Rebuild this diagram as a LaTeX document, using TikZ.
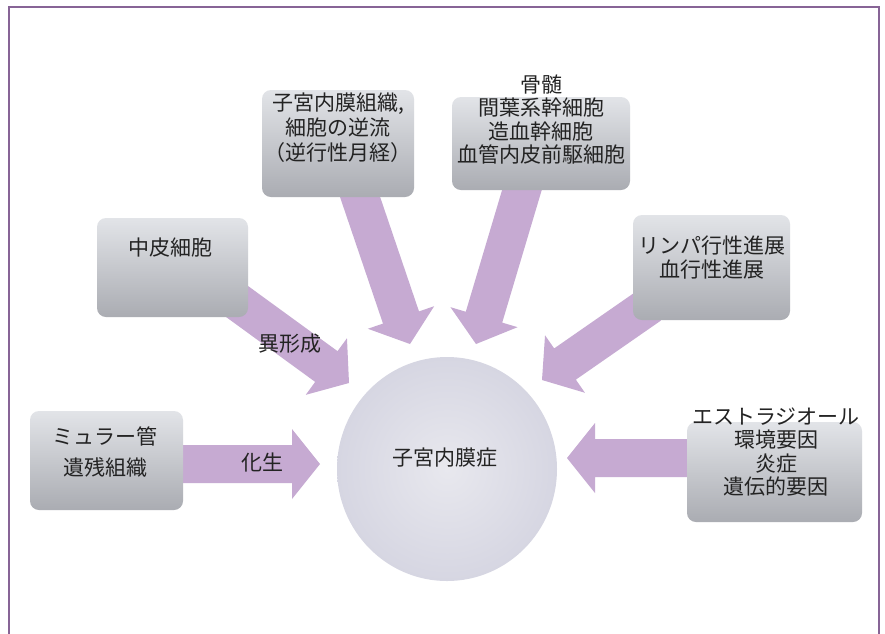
\documentclass[tikz,border=0pt]{standalone}
\usepackage{fontspec}
\newfontfamily\jp{Noto Sans CJK JP}
\usetikzlibrary{calc,backgrounds,shapes.geometric}
\definecolor{framec}{RGB}{135,100,150}
\definecolor{arrowc}{RGB}{198,170,210}
\definecolor{boxtop}{RGB}{226,228,232}
\definecolor{boxbot}{RGB}{170,172,178}
\definecolor{circin}{RGB}{232,232,238}
\definecolor{circout}{RGB}{214,214,226}
\definecolor{txt}{RGB}{35,35,35}
\tikzset{
  box/.style={rectangle, rounded corners=9pt, top color=boxtop, bottom color=boxbot, inner sep=0pt},
  lbl/.style={font=\jp\fontsize{21}{24}\selectfont, text=txt, align=center, inner sep=0pt},
  fat/.style={fill=arrowc},
}
\newcommand{\fatarrow}[2]{%
  \coordinate (hb) at ($(#2)!28pt!(#1)$);
  \fill[fat] ($(#1)!19pt!-90:(#2)$) -- ($(hb)!19pt!-90:(#2)$) -- ($(hb)!35pt!-90:(#2)$) -- (#2)
    -- ($(hb)!35pt!90:(#2)$) -- ($(hb)!19pt!90:(#2)$) -- ($(#1)!19pt!90:(#2)$) -- cycle;
}
\begin{document}
\begin{tikzpicture}[x=1pt,y=-1pt]
\useasboundingbox (0,0) rectangle (885,633);
% boxes
\node[box, minimum width=152pt, minimum height=107pt] (A) at (338,143.5) {};
\node[box, minimum width=178pt, minimum height=93pt] (B) at (541,143.5) {};
\node[box, minimum width=151pt, minimum height=99pt] (C) at (172.5,267.5) {};
\node[box, minimum width=157pt, minimum height=105pt] (D) at (711.5,267.5) {};
\node[box, minimum width=153pt, minimum height=99pt] (E) at (106.5,460.5) {};
\node[box, minimum width=175pt, minimum height=100pt] (F) at (774.5,472) {};
\node[ellipse, minimum width=220pt, minimum height=224pt, inner color=circin, outer color=circout] (M) at (447,469) {};
% texts
\node[lbl, font=\jp\fontsize{21}{25}\selectfont] (At) at (338,128) {子宮内膜組織,\\細胞の逆流\\（逆行性月経）};
\node[lbl, font=\jp\fontsize{21}{23.5}\selectfont] (Bt) at (541,119.5) {骨髄\\間葉系幹細胞\\造血幹細胞\\血管内皮前駆細胞};
\node[lbl] (Ct) at (170,248) {中皮細胞};
\node[lbl] (Dt) at (712,258) {リンパ行性進展\\血行性進展};
\node[lbl, font=\jp\fontsize{21}{31}\selectfont] (Et) at (105,452) {ミュラー管\\遺残組織};
\node[lbl, font=\jp\fontsize{21}{23.5}\selectfont] (Ft) at (776,452) {エストラジオール\\環境要因\\炎症\\遺伝的要因};
\node[lbl] (Mt) at (445,458) {子宮内膜症};
% arrow end points
\coordinate (sA) at (356,185); \coordinate (tA) at (410,344);
\coordinate (sB) at (524,183); \coordinate (tB) at (476,344);
\coordinate (sC) at (235,300); \coordinate (tC) at (349,383);
\coordinate (sD) at (650,305); \coordinate (tD) at (542,380);
\coordinate (sE) at (175,464); \coordinate (tE) at (320,464);
\coordinate (sF) at (695,458); \coordinate (tF) at (567,458);
\begin{scope}[on background layer]
  \draw[framec, line width=1.6pt, fill=white] (9,7) rectangle (879,645);
  \fatarrow{sA}{tA}
  \fatarrow{sB}{tB}
  \fatarrow{sC}{tC}
  \fatarrow{sD}{tD}
  \fatarrow{sE}{tE}
  \fatarrow{sF}{tF}
\end{scope}
\node[lbl] (l1) at (262,462) {化生};
\node[lbl] (l2) at (290,344) {異形成};
\end{tikzpicture}
\end{document}
